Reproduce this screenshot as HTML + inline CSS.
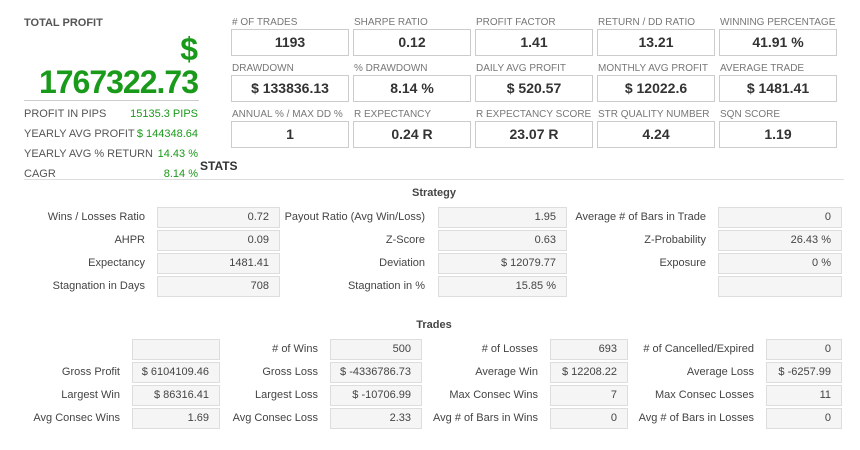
<!DOCTYPE html>
<html><head><meta charset="utf-8"><style>
body{margin:0;width:860px;height:450px;background:#fff;position:relative;overflow:hidden;font-family:"Liberation Sans",Arial,sans-serif;}
.a{position:absolute;white-space:nowrap;}
.tl{font-size:10px;color:#777;}
.tb{border:1px solid #ccc;background:#fff;text-align:center;font-size:14px;font-weight:bold;color:#333;line-height:25px;box-sizing:border-box;height:27px;width:118px;}
.sl{font-size:11px;color:#444;text-align:right;line-height:21px;}
.sb{background:#f5f5f5;border:1px solid #ddd;box-sizing:border-box;height:21px;font-size:11px;color:#444;text-align:right;padding-right:10px;line-height:19px;}
.ll{font-size:11px;color:#555;}
.lv{font-size:11px;color:#1a9a1a;text-align:right;}
.hd{font-size:11px;font-weight:bold;color:#444;}
</style></head><body>
<div class="a" style="left:24px;top:17px;font-size:11px;font-weight:bold;color:#555;">TOTAL PROFIT</div>
<div class="a" style="right:662px;top:31px;font-size:32px;font-weight:bold;color:#1a9a1a;">$</div>
<div class="a" style="right:662px;top:64px;font-size:32px;font-weight:bold;color:#1a9a1a;letter-spacing:-1px;">1767322.73</div>
<div class="a" style="left:24px;top:100px;width:175px;height:1px;background:#ccc;"></div>
<div class="a" style="left:200px;top:159px;font-size:12px;font-weight:bold;color:#333;">STATS</div>
<div class="a" style="left:24px;top:179px;width:820px;height:1px;background:#ddd;"></div>
<div class="a hd" style="left:0;width:868px;text-align:center;top:187px;">Strategy</div>
<div class="a hd" style="left:0;width:868px;text-align:center;top:319px;">Trades</div>
<script>
const leftLabels=["PROFIT IN PIPS","YEARLY AVG PROFIT","YEARLY AVG % RETURN","CAGR"];
const leftValues=["15135.3 PIPS","$ 144348.64","14.43 %","8.14 %"];
const leftY=[108,128,148,168];
leftLabels.forEach((t,i)=>{
 const l=document.createElement('div');l.className='a ll';l.style.left='24px';l.style.top=leftY[i]+'px';l.textContent=t;
 
 
 document.body.appendChild(l);
 const v=document.createElement('div');v.className='a lv';v.style.right='662px';v.style.top=leftY[i]+'px';v.textContent=leftValues[i];
 
 
 document.body.appendChild(v);
});
const topLabels=[["# OF TRADES","SHARPE RATIO","PROFIT FACTOR","RETURN / DD RATIO","WINNING PERCENTAGE"],["DRAWDOWN","% DRAWDOWN","DAILY AVG PROFIT","MONTHLY AVG PROFIT","AVERAGE TRADE"],["ANNUAL % / MAX DD %","R EXPECTANCY","R EXPECTANCY SCORE","STR QUALITY NUMBER","SQN SCORE"]];
const topValues=[["1193","0.12","1.41","13.21","41.91 %"],["$ 133836.13","8.14 %","$ 520.57","$ 12022.6","$ 1481.41"],["1","0.24 R","23.07 R","4.24","1.19"]];
const topX=[231,353,475,597,719],topY=[29,75,121];
topLabels.forEach((row,r)=>row.forEach((t,c)=>{
 const l=document.createElement('div');l.className='a tl';l.style.left=topX[c]+1+'px';l.style.top=topY[r]-12+'px';l.textContent=t;
 
 
 document.body.appendChild(l);
 const b=document.createElement('div');b.className='a tb';b.style.left=topX[c]+'px';b.style.top=topY[r]+'px';b.textContent=topValues[r][c];
 
 
 document.body.appendChild(b);
}));
function grid(labels,values,rowsY,labelRight,boxX,boxW){
 labels.forEach((row,r)=>row.forEach((t,c)=>{
  const l=document.createElement('div');l.className='a sl';l.style.left='0px';l.style.width=labelRight[c]+'px';l.style.top=rowsY[r]+'px';l.textContent=t;
  
  
  document.body.appendChild(l);
  const b=document.createElement('div');b.className='a sb';b.style.left=boxX[c]+'px';b.style.width=boxW[c]+'px';b.style.top=rowsY[r]+'px';b.textContent=values[r][c];
  
  
  document.body.appendChild(b);
 }));
}
const stratLabels=[["Wins / Losses Ratio","Payout Ratio (Avg Win/Loss)","Average # of Bars in Trade"],["AHPR","Z-Score","Z-Probability"],["Expectancy","Deviation","Exposure"],["Stagnation in Days","Stagnation in %",""]];
const stratValues=[["0.72","1.95","0"],["0.09","0.63","26.43 %"],["1481.41","$ 12079.77","0 %"],["708","15.85 %",""]];
grid(stratLabels,stratValues,[207,230,253,276],[145,425,706],[157,438,718],[123,129,124]);
const tradeLabels=[["","# of Wins","# of Losses","# of Cancelled/Expired"],["Gross Profit","Gross Loss","Average Win","Average Loss"],["Largest Win","Largest Loss","Max Consec Wins","Max Consec Losses"],["Avg Consec Wins","Avg Consec Loss","Avg # of Bars in Wins","Avg # of Bars in Losses"]];
const tradeValues=[["","500","693","0"],["$ 6104109.46","$ -4336786.73","$ 12208.22","$ -6257.99"],["$ 86316.41","$ -10706.99","7","11"],["1.69","2.33","0","0"]];
grid(tradeLabels,tradeValues,[339,362,385,408],[120,318,538,754],[132,330,550,766],[88,92,78,76]);
</script>
</body></html>
